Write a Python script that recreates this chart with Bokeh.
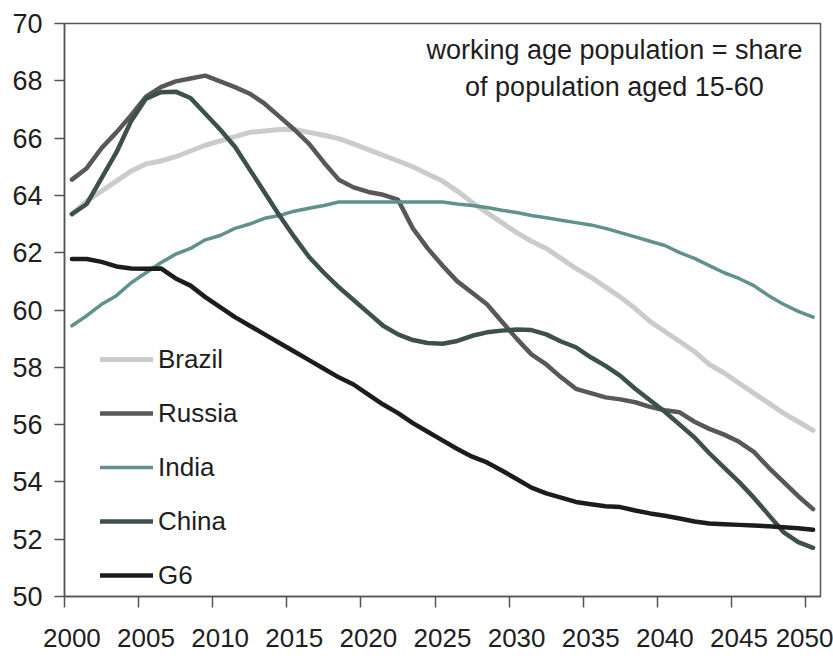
from bokeh.plotting import figure
from bokeh.models import FixedTicker, Label
from bokeh.embed import file_html
from bokeh.resources import INLINE

years = list(range(2000, 2051))

brazil = [63.35, 63.8, 64.15, 64.5, 64.85, 65.1, 65.2, 65.35, 65.55, 65.75,
          65.9, 66.05, 66.2, 66.25, 66.3, 66.3, 66.2, 66.1, 65.98, 65.8,
          65.6, 65.4, 65.2, 65.0, 64.75, 64.5, 64.15, 63.75, 63.4, 63.05,
          62.7, 62.4, 62.15, 61.8, 61.45, 61.15, 60.8, 60.45, 60.05, 59.6,
          59.25, 58.9, 58.55, 58.1, 57.8, 57.45, 57.1, 56.75, 56.4, 56.1, 55.8]

russia = [64.55, 64.95, 65.65, 66.2, 66.8, 67.45, 67.78, 67.98, 68.08, 68.18,
          67.98, 67.78, 67.55, 67.2, 66.75, 66.3, 65.8, 65.15, 64.55, 64.28,
          64.12, 64.02, 63.85, 62.85, 62.15, 61.55, 61.0, 60.6, 60.2, 59.6,
          59.0, 58.45, 58.1, 57.65, 57.25, 57.1, 56.95, 56.88, 56.78, 56.62,
          56.5, 56.43, 56.1, 55.85, 55.65, 55.4, 55.05, 54.5, 54.0, 53.5, 53.05]

india = [59.45, 59.8, 60.2, 60.5, 60.95, 61.3, 61.65, 61.95, 62.15, 62.45,
         62.6, 62.85, 63.0, 63.2, 63.3, 63.45, 63.55, 63.65, 63.77, 63.77,
         63.77, 63.77, 63.77, 63.77, 63.77, 63.77, 63.7, 63.65, 63.58, 63.48,
         63.4, 63.3, 63.22, 63.13, 63.05, 62.97, 62.85, 62.7, 62.55, 62.4,
         62.25, 62.0, 61.8, 61.55, 61.3, 61.1, 60.85, 60.5, 60.2, 59.95, 59.75]

china = [63.35, 63.7, 64.6, 65.5, 66.6, 67.38, 67.6, 67.62, 67.4, 66.85,
         66.3, 65.7, 64.9, 64.1, 63.3, 62.55, 61.85, 61.3, 60.8, 60.35,
         59.9, 59.45, 59.15, 58.95, 58.85, 58.82, 58.92, 59.1, 59.22, 59.28,
         59.32, 59.3, 59.15, 58.9, 58.7, 58.35, 58.05, 57.7, 57.25, 56.85,
         56.45, 56.0, 55.55, 55.0, 54.5, 54.0, 53.45, 52.85, 52.25, 51.9, 51.7]

g6 = [61.78, 61.78, 61.68, 61.52, 61.45, 61.44, 61.45, 61.1, 60.85, 60.45,
      60.1, 59.75, 59.45, 59.15, 58.85, 58.55, 58.25, 57.95, 57.65, 57.4,
      57.05, 56.7, 56.4, 56.05, 55.75, 55.45, 55.15, 54.88, 54.68, 54.4,
      54.1, 53.8, 53.6, 53.45, 53.3, 53.22, 53.15, 53.12, 53.0, 52.9,
      52.82, 52.72, 52.62, 52.55, 52.52, 52.5, 52.48, 52.45, 52.42, 52.38, 52.33]

series_names = ["Brazil", "Russia", "India", "China", "G6"]
series_values = [brazil, russia, india, china, g6]
series_colors = ["#cbcbcb", "#585858", "#5f918d", "#3d5049", "#1c1c1c"]
series_widths = [5, 4.5, 3.5, 4.5, 4.5]

x_tick_labels = [2000, 2005, 2010, 2015, 2020, 2025, 2030, 2035, 2040, 2045, 2050]
y_ticks = [50, 52, 54, 56, 58, 60, 62, 64, 66, 68, 70]

FONT = "Liberation Sans"
TXT = "#1e1e1e"
FRAME = "#555555"

p = figure(width=833, height=659, output_backend="svg",
           toolbar_location=None,
           x_range=(1999.5, 2050.5), y_range=(50, 70),
           min_border_left=64, min_border_right=13, min_border_top=23,
           min_border_bottom=63)

for name, vals, col, w in zip(series_names, series_values, series_colors, series_widths):
    p.line(years, vals, line_color=col, line_width=w, legend_label=name,
           line_join="round", line_cap="round")

p.grid.visible = False
p.outline_line_color = FRAME
p.outline_line_width = 1.5
p.background_fill_color = "white"
p.border_fill_color = "white"

xa = p.xaxis[0]
xa.ticker = FixedTicker(ticks=x_tick_labels,
                        minor_ticks=[t - 0.5 for t in x_tick_labels])
xa.major_tick_line_color = None
xa.major_tick_out = 11
xa.major_tick_in = 0
xa.minor_tick_out = 11
xa.minor_tick_in = 0
xa.minor_tick_line_color = FRAME
xa.minor_tick_line_width = 1.5
xa.axis_line_color = FRAME
xa.axis_line_width = 1.5
xa.major_label_standoff = 21
xa.major_label_text_font = FONT
xa.major_label_text_font_size = "26px"
xa.major_label_text_color = TXT

ya = p.yaxis[0]
ya.ticker = FixedTicker(ticks=y_ticks)
ya.major_tick_out = 10
ya.major_tick_in = 0
ya.major_tick_line_color = FRAME
ya.major_tick_line_width = 1.5
ya.minor_tick_line_color = None
ya.axis_line_color = FRAME
ya.axis_line_width = 1.5
ya.major_label_standoff = 12
ya.major_label_text_font = FONT
ya.major_label_text_font_size = "27px"
ya.major_label_text_color = TXT

lg = p.legend[0]
lg.location = (36, 5)
lg.label_text_font = FONT
lg.label_text_font_size = "26px"
lg.label_text_color = TXT
lg.glyph_width = 53
lg.glyph_height = 32
lg.label_height = 32
lg.spacing = 22
lg.padding = 0
lg.margin = 0
lg.label_standoff = 5
lg.border_line_color = None
lg.background_fill_alpha = 0

note1 = Label(x=2036.6, y=69.07, text="working age population = share",
              text_font=FONT, text_font_size="27px", text_color=TXT,
              text_align="center", text_baseline="middle")
note2 = Label(x=2036.6, y=67.77, text="of population aged 15-60",
              text_font=FONT, text_font_size="27px", text_color=TXT,
              text_align="center", text_baseline="middle")
p.add_layout(note1)
p.add_layout(note2)

open("out.html", "w").write(file_html(p, INLINE))
